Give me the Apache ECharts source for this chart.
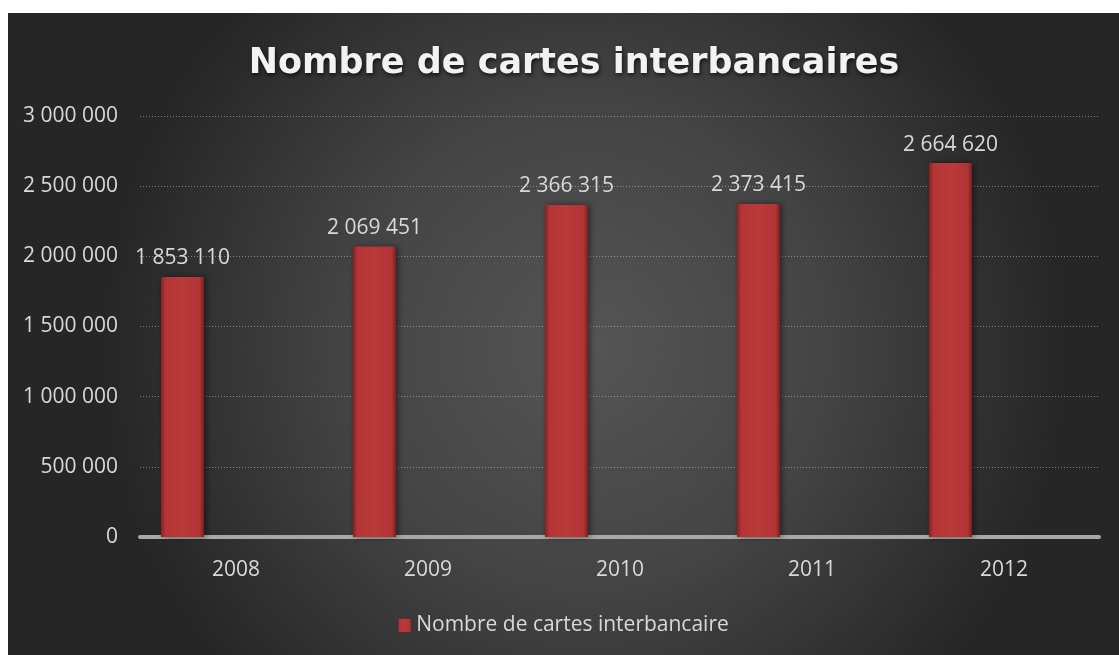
<!DOCTYPE html>
<html>
<head>
<meta charset="utf-8">
<script src="https://cdn.jsdelivr.net/npm/echarts@6/dist/echarts.min.js"></script>
<style>
html,body{margin:0;padding:0;background:#fff;}
#chart{position:absolute;left:8px;top:13px;width:1111px;height:642px;}
</style>
</head>
<body>
<div id="chart"></div>
<script>
const titleText = 'Nombre de cartes interbancaires';
const seriesName = 'Nombre de cartes interbancaire';
const categories = ['2008', '2009', '2010', '2011', '2012'];
const values = [1853110, 2069451, 2366315, 2373415, 2664620];
const emptyValues = [null, null, null, null, null];

function fmt(v) {
  return String(v).replace(/\B(?=(\d{3})+(?!\d))/g, ' ');
}

const chart = echarts.init(document.getElementById('chart'));
const labelColor = '#d9d9d9';
const fontFamily = 'Open Sans';
const fs = 21;

chart.setOption({
  backgroundColor: {
    type: 'radial', x: 0.52, y: 0.52, r: 0.75,
    colorStops: [
      {offset: 0, color: '#555555'},
      {offset: 0.5, color: '#444444'},
      {offset: 1, color: '#262626'}
    ]
  },
  title: {
    text: titleText,
    left: 561,
    textAlign: 'center',
    top: 28,
    textStyle: {
      color: '#f2f2f2',
      fontFamily: 'DejaVu Sans',
      fontWeight: 'bold',
      fontSize: 35,
      textShadowColor: 'rgba(0,0,0,0.7)',
      textShadowBlur: 4,
      textShadowOffsetX: 1,
      textShadowOffsetY: 2
    }
  },
  legend: {
    data: [seriesName],
    bottom: 14,
    left: 'center',
    icon: 'rect',
    itemWidth: 13,
    itemHeight: 13,
    itemGap: 6,
    textStyle: {color: labelColor, fontFamily: fontFamily, fontSize: fs}
  },
  grid: {left: 132, right: 19, top: 103, bottom: 118, containLabel: false},
  xAxis: {
    type: 'category',
    data: categories,
    axisLine: {show: true, lineStyle: {color: '#a8a8a8', width: 4, type: [3, 1]}},
    axisTick: {show: false},
    axisLabel: {color: labelColor, fontFamily: fontFamily, fontSize: fs, margin: 23}
  },
  yAxis: {
    type: 'value',
    min: 0,
    max: 3000000,
    interval: 500000,
    axisLine: {show: false},
    axisTick: {show: false},
    axisLabel: {color: labelColor, fontFamily: fontFamily, fontSize: fs, margin: 22, formatter: fmt},
    splitLine: {lineStyle: {color: 'rgba(200,200,200,0.55)', width: 1, type: [1, 2]}}
  },
  series: [
    {
      name: seriesName,
      type: 'bar',
      data: values,
      barWidth: 43,
      barGap: '149%',
      itemStyle: {
        color: {
          type: 'linear', x: 0, y: 0, x2: 1, y2: 0,
          colorStops: [
            {offset: 0, color: '#7f2323'},
            {offset: 0.1, color: '#b33535'},
            {offset: 0.5, color: '#bb3939'},
            {offset: 0.9, color: '#b03434'},
            {offset: 1, color: '#782020'}
          ]
        },
        shadowColor: 'rgba(0,0,0,0.5)',
        shadowBlur: 6,
        shadowOffsetX: 2,
        shadowOffsetY: 0
      },
      label: {
        show: true,
        position: 'top',
        distance: 8,
        color: labelColor,
        fontFamily: fontFamily,
        fontSize: fs,
        formatter: p => fmt(p.value)
      }
    },
    {
      name: 'vide',
      type: 'bar',
      data: emptyValues,
      barWidth: 43,
      itemStyle: {color: 'transparent'}
    }
  ]
});
</script>
</body>
</html>
